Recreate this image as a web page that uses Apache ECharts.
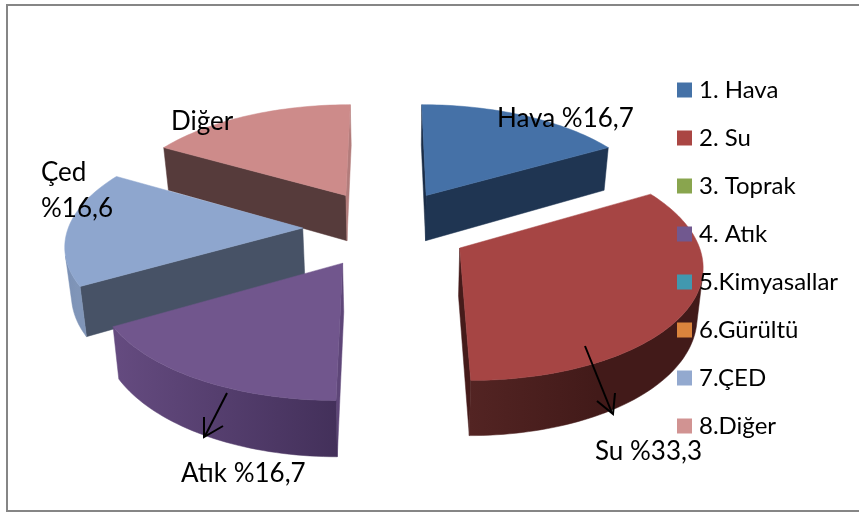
<!DOCTYPE html>
<html>
<head>
<meta charset="utf-8">
<style>html,body{margin:0;background:#fff}#main{width:859px;height:512px}</style>
<script src="https://cdn.jsdelivr.net/npm/echarts@6/dist/echarts.min.js"></script>
</head>
<body>
<div id="main"></div>
<script>
var categories = ['1. Hava', '2. Su', '3. Toprak', '4. Atık', '5.Kimyasallar', '6.Gürültü', '7.ÇED', '8.Diğer'];
var values = [16.7, 33.3, 0, 16.7, 0, 0, 16.6, 16.7];
var colors = ['#4572A7', '#AA4643', '#89A54E', '#71588F', '#4198AF', '#DB843D', '#93A9CF', '#D19392'];
var topColors = ['#4571A7', '#A64544', '#89A54E', '#71568D', '#4198AF', '#DB843D', '#8EA6CE', '#CD8B8A'];
// side colours: cut at start angle, cut at end angle, outer wall (left to right on screen)
var startCut = ['#1A2D47', '#3E1918', '#333', '#5E4678', '#333', '#333', '#475266', '#563B3B'];
var endCut = ['#1F3552', '#451B1A', '#333', '#3F2C55', '#333', '#333', '#475266', '#B27C7B'];
var wallLeft = ['#2a4365', '#532423', '#333', '#654B80', '#333', '#333', '#7A90B5', '#9a6665'];
var wallRight = ['#2a4365', '#421A19', '#333', '#43305A', '#333', '#333', '#8095B8', '#9a6665'];

// perspective of the pie, fitted on the picture
var CX = 386, CY = 228, RX = 234.5, RY = 110, P = 0.127, EXPLODE = 0.355;
var DEPTH = 47, VX = 400, SHRINK = 0.98;

var total = values.reduce(function (a, b) { return a + b; }, 0);

function project(u, v) {
  var d = 1 + P * v;
  return [CX + RX * u / d, CY - RY * v / d];
}
function lower(u, v) {
  var p = project(u, v);
  return [VX + (p[0] - VX) * SHRINK, p[1] + DEPTH / (1 + P * v)];
}
function signedArea(pts) {
  var area = 0;
  for (var i = 0; i < pts.length; i++) {
    var n = pts[(i + 1) % pts.length];
    area += pts[i][0] * n[1] - n[0] * pts[i][1];
  }
  return area;
}
function quadPts(a, b) {
  // a, b are ground points, walked clockwise seen from above
  return [project(a[0], a[1]), project(b[0], b[1]), lower(b[0], b[1]), lower(a[0], a[1])];
}
function poly(pts, fill) {
  return { type: 'polygon', shape: { points: pts }, style: { fill: fill, stroke: fill, lineWidth: 0.5 } };
}
function cutFace(a, b, color) {
  var pts = quadPts(a, b);
  return signedArea(pts) < 0 ? poly(pts, color) : null;
}
function wallFace(run, idx) {
  var up = run.map(function (p) { return project(p[0], p[1]); });
  var down = run.map(function (p) { return lower(p[0], p[1]); }).reverse();
  var fill = new echarts.graphic.LinearGradient(0, 0, 1, 0, [
    { offset: 0, color: wallLeft[idx] },
    { offset: 0.55, color: wallRight[idx] },
    { offset: 1, color: wallRight[idx] }
  ]);
  if (idx === 3) {
    fill = new echarts.graphic.LinearGradient(0, 0, 1, 0, [
      { offset: 0, color: wallLeft[idx] },
      { offset: 1, color: wallRight[idx] }
    ]);
  }
  return poly(up.concat(down), fill);
}
function startAngle(idx) {
  var sum = 0;
  for (var i = 0; i < idx; i++) sum += values[i];
  return sum / total * Math.PI * 2;
}
function renderSlice(params, api) {
  var idx = params.seriesIndex;
  var val = api.value(0);
  if (!val) return null;
  var a0 = startAngle(idx), a1 = a0 + val / total * Math.PI * 2, mid = (a0 + a1) / 2;
  var ox = EXPLODE * Math.sin(mid), oy = EXPLODE * Math.cos(mid);
  var apex = [ox, oy];
  var arc = [];
  var steps = Math.max(20, Math.round((a1 - a0) / 0.025));
  for (var s = 0; s <= steps; s++) {
    var t = a0 + (a1 - a0) * s / steps;
    arc.push([ox + Math.sin(t), oy + Math.cos(t)]);
  }
  var faces = [cutFace(apex, arc[0], startCut[idx]), cutFace(arc[steps], apex, endCut[idx])];
  // outer wall: keep only the stretch that faces the viewer
  var run = [];
  for (var j = 0; j < steps; j++) {
    if (signedArea(quadPts(arc[j], arc[j + 1])) < 0) {
      if (!run.length) run.push(arc[j]);
      run.push(arc[j + 1]);
    } else if (run.length) {
      faces.push(wallFace(run, idx));
      run = [];
    }
  }
  if (run.length) faces.push(wallFace(run, idx));
  var outline = [project(apex[0], apex[1])].concat(arc.map(function (p) { return project(p[0], p[1]); }));
  faces.push(poly(outline, topColors[idx]));
  return { type: 'group', children: faces.filter(Boolean) };
}

var FAMILY = 'Lato, "Open Sans", sans-serif';
function label(text, x, y) {
  return { type: 'text', z: 100, style: { text: text, x: x, y: y, font: '26px ' + FAMILY, fill: '#000', verticalAlign: 'middle' } };
}
function line(points) {
  return { type: 'polyline', z: 100, shape: { points: points }, style: { stroke: '#000', lineWidth: 2, fill: null } };
}

var myChart = echarts.init(document.getElementById('main'), null, { renderer: 'canvas' });
var option = {
  animation: false,
  backgroundColor: '#fff',
  legend: {
    data: categories,
    orient: 'vertical',
    left: 677,
    top: 78,
    padding: 0,
    itemWidth: 15,
    itemHeight: 15,
    itemGap: 24,
    icon: 'rect',
    selectedMode: false,
    z: 50,
    textStyle: { fontFamily: FAMILY, fontSize: 24, color: '#000', padding: [0, 0, 0, 2] }
  },
  series: categories.map(function (name, i) {
    var mid = startAngle(i) + values[i] / total * Math.PI;
    return {
      name: name,
      type: 'custom',
      coordinateSystem: 'none',
      z: Math.round(10 - 5 * Math.cos(mid)),
      itemStyle: { color: colors[i] },
      renderItem: renderSlice,
      data: [[values[i]]],
      silent: true
    };
  }),
  graphic: [
    { type: 'rect', z: 90, shape: { x: 7, y: 5, width: 870, height: 506 }, style: { fill: null, stroke: '#868686', lineWidth: 2 } },
    label('Hava %16,7', 497, 119),
    label('Su %33,3', 595, 452),
    label('Atık %16,7', 181, 474),
    label('Çed', 41, 173),
    label('%16,6', 41, 209),
    label('Diğer', 171, 122),
    line([[585, 346], [612, 413]]),
    line([[597, 401], [613, 414], [615, 393]]),
    line([[227, 393], [205, 436]]),
    line([[204, 417], [204, 437], [223, 426]])
  ]
};
myChart.setOption(option);
</script>
</body>
</html>
